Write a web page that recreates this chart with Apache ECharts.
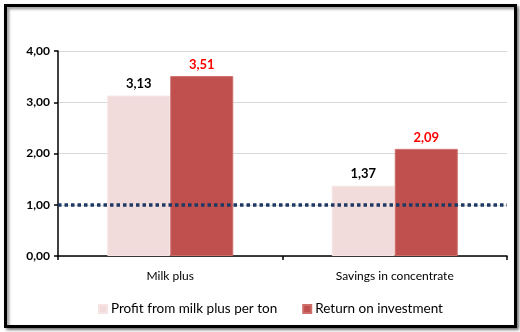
<!DOCTYPE html>
<html>
<head>
<meta charset="utf-8">
<script src="https://cdn.jsdelivr.net/npm/echarts@6/dist/echarts.min.js"></script>
<style>
html,body{margin:0;padding:0;background:#fff;}
#c{width:520px;height:332px;}
</style>
</head>
<body>
<div id="c"></div>
<script>
var categories = ['Milk plus', 'Savings in concentrate'];
var profitPerTon = [3.13, 1.37];
var returnOnInvestment = [3.51, 2.09];
var seriesNames = ['Profit from milk plus per ton', 'Return on investment'];
var yTickLabels = ['0,00', '1,00', '2,00', '3,00', '4,00'];
var referenceLevel = 1.0;

var FONT = 'Lato';
var chart = echarts.init(document.getElementById('c'), null, {renderer: 'canvas'});
function fmt(v){ return v.toFixed(2).replace('.', ','); }

chart.setOption({
  backgroundColor: '#fff',
  animation: false,
  graphic: [{
    type: 'rect',
    shape: {x: 5.5, y: 5.5, width: 510, height: 321},
    style: {fill: '#fff', stroke: '#000', lineWidth: 3,
      shadowBlur: 3, shadowOffsetX: 2, shadowOffsetY: 2, shadowColor: 'rgba(0,0,0,0.45)'},
    z: -10
  }],
  grid: {left: 58, right: 13, top: 51, bottom: 76, containLabel: false},
  legend: {
    left: 93, top: 297,
    itemWidth: 8, itemHeight: 8, itemGap: 25,
    icon: 'rect',
    textStyle: {fontFamily: FONT, fontSize: 13.5, color: '#000', padding: [0, 0, 0, -1]},
    data: seriesNames
  },
  xAxis: {
    type: 'category',
    data: categories,
    axisLine: {lineStyle: {color: '#000', width: 1.5}},
    axisTick: {show: true, length: 4, lineStyle: {color: '#000', width: 1.5}},
    axisLabel: {fontFamily: FONT, fontSize: 12, color: '#000', margin: 14}
  },
  yAxis: {
    type: 'value',
    min: 0, max: 4, interval: 1,
    axisLine: {show: true, lineStyle: {color: '#000', width: 1.5}},
    axisTick: {show: true, length: 4, lineStyle: {color: '#000', width: 1.5}},
    splitLine: {show: true, lineStyle: {color: '#d9d9d9', width: 1}},
    axisLabel: {fontFamily: FONT, fontSize: 12, fontWeight: 'bold', color: '#000', margin: 8,
      formatter: function(v){ return yTickLabels[Math.round(v)] || fmt(v); }}
  },
  series: [{
    name: seriesNames[0],
    type: 'bar',
    data: profitPerTon,
    barWidth: 63,
    barGap: '0%',
    itemStyle: {color: '#f2dcdb', borderColor: '#f5e4e3', borderWidth: 1},
    label: {show: true, position: 'top', distance: 5, fontFamily: FONT, fontSize: 13,
      fontWeight: 'bold', color: '#000', formatter: function(p){ return fmt(p.value); }},
    markLine: {
      silent: true, symbol: 'none',
      label: {show: false},
      lineStyle: {color: '#1f3864', width: 3.5, type: [3.5, 3]},
      data: [{yAxis: referenceLevel}],
      z: 10
    }
  }, {
    name: seriesNames[1],
    type: 'bar',
    data: returnOnInvestment,
    barWidth: 63,
    itemStyle: {color: '#c0504d', borderColor: '#cd6e6b', borderWidth: 1},
    label: {show: true, position: 'top', distance: 5, fontFamily: FONT, fontSize: 13,
      fontWeight: 'bold', color: '#ff0000', formatter: function(p){ return fmt(p.value); }}
  }]
});
</script>
</body>
</html>
